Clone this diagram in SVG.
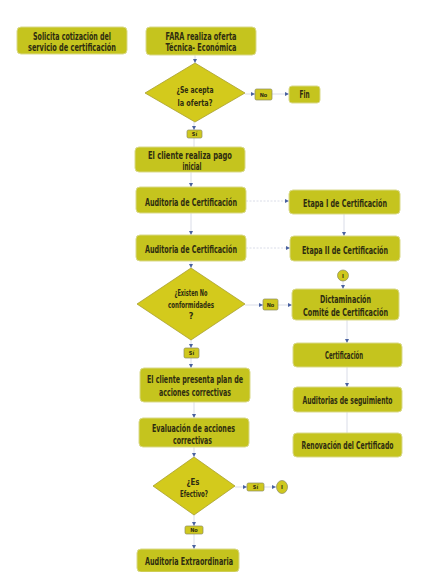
<svg xmlns="http://www.w3.org/2000/svg" width="436" height="572" viewBox="0 0 436 572">
<style>
.box{fill:#C5C41E;stroke:#D9D98A;stroke-width:1}
.dia{fill:#D3CA1C;stroke:#A8A030;stroke-width:0.8}
.lab{fill:#CFC81E;stroke:#8A8A60;stroke-width:0.7}
.t{font-family:"DejaVu Sans Condensed","Liberation Sans Narrow","Liberation Sans",sans-serif;font-size:10.5px;font-weight:bold;fill:#2E2C10;text-anchor:middle}
.m{font-size:9.8px}
.s{font-size:9px}
.xs{font-size:5.5px}
.c{fill:none;stroke:#D0D4E2;stroke-width:0.8}
.cd{fill:none;stroke:#D0D4E2;stroke-width:0.8;stroke-dasharray:2 1.5}
</style>
<defs>
<marker id="ah" viewBox="0 0 6 6" refX="6" refY="3" markerWidth="4" markerHeight="4" orient="auto" markerUnits="userSpaceOnUse">
<path d="M0,0 L6,3 L0,6 z" fill="#4A62A0"/>
</marker>
</defs>
<rect width="436" height="572" fill="#FFFFFF"/>
<g id="connectors">
<line class="c" x1="195" y1="55" x2="195" y2="63" marker-end="url(#ah)"/>
<line class="c" x1="245" y1="94" x2="255" y2="94" marker-end="url(#ah)"/>
<line class="c" x1="272" y1="94" x2="289" y2="94" marker-end="url(#ah)"/>
<line class="c" x1="194" y1="122" x2="194" y2="130" marker-end="url(#ah)"/>
<line class="c" x1="194" y1="138" x2="194" y2="147"/>
<line class="c" x1="191" y1="172" x2="191" y2="187" marker-end="url(#ah)"/>
<line class="cd" x1="246" y1="201" x2="289" y2="201" marker-end="url(#ah)"/>
<line class="c" x1="191" y1="213" x2="191" y2="235" marker-end="url(#ah)"/>
<line class="c" x1="344" y1="214" x2="344" y2="236" marker-end="url(#ah)"/>
<line class="cd" x1="246" y1="248" x2="290" y2="248" marker-end="url(#ah)"/>
<line class="c" x1="191" y1="261" x2="191" y2="268" marker-end="url(#ah)"/>
<line class="c" x1="343" y1="281" x2="343" y2="289" marker-end="url(#ah)"/>
<line class="c" x1="245" y1="305" x2="263" y2="305" marker-end="url(#ah)"/>
<line class="c" x1="278" y1="305" x2="292" y2="305" marker-end="url(#ah)"/>
<line class="c" x1="191" y1="340" x2="191" y2="348" marker-end="url(#ah)"/>
<line class="c" x1="191" y1="358" x2="191" y2="368" marker-end="url(#ah)"/>
<line class="c" x1="347" y1="320" x2="347" y2="343" marker-end="url(#ah)"/>
<line class="c" x1="347" y1="367" x2="347" y2="387" marker-end="url(#ah)"/>
<line class="c" x1="347" y1="412" x2="347" y2="433"/>
<line class="c" x1="194" y1="402" x2="194" y2="418" marker-end="url(#ah)"/>
<line class="c" x1="194" y1="447" x2="194" y2="457" marker-end="url(#ah)"/>
<line class="c" x1="235" y1="487" x2="247" y2="487" marker-end="url(#ah)"/>
<line class="c" x1="264" y1="487" x2="276" y2="487" marker-end="url(#ah)"/>
<line class="c" x1="194" y1="515" x2="194" y2="526" marker-end="url(#ah)"/>
<line class="c" x1="194" y1="533" x2="194" y2="549" marker-end="url(#ah)"/>
</g>
<g id="n-solicita">
<rect class="box" x="17" y="27" width="110" height="27" rx="4"/>
<text class="t" x="72" y="39.5" textLength="78" lengthAdjust="spacingAndGlyphs">Solicita cotización del</text>
<text class="t" x="72" y="51" textLength="88" lengthAdjust="spacingAndGlyphs">servicio de certificación</text>
</g>
<g id="n-fara">
<rect class="box" x="146" y="27" width="110" height="28" rx="4"/>
<text class="t" x="201" y="39.5" textLength="71" lengthAdjust="spacingAndGlyphs">FARA realiza oferta</text>
<text class="t" x="201" y="51" textLength="71" lengthAdjust="spacingAndGlyphs">Técnica- Económica</text>
</g>
<g id="n-acepta">
<polygon class="dia" points="195,63 245,93 195,122 145,93"/>
<text class="t s" x="195" y="93" textLength="37" lengthAdjust="spacingAndGlyphs">¿Se acepta</text>
<text class="t s" x="195" y="106" textLength="35" lengthAdjust="spacingAndGlyphs">la oferta?</text>
</g>
<g id="n-no1">
<rect class="lab" x="255" y="89" width="17" height="11" rx="1.5"/>
<text class="t xs" x="263.5" y="96.5">No</text>
</g>
<g id="n-fin">
<rect class="box" x="289" y="86" width="31" height="17" rx="3"/>
<text class="t" x="304.5" y="98" textLength="10" lengthAdjust="spacingAndGlyphs">Fin</text>
</g>
<g id="n-si1">
<rect class="lab" x="187" y="130" width="15" height="8" rx="1.5"/>
<text class="t xs" x="194.5" y="136">Sí</text>
</g>
<g id="n-pago">
<rect class="box" x="135" y="147" width="110" height="25" rx="4"/>
<text class="t" x="190" y="158.5" textLength="84" lengthAdjust="spacingAndGlyphs">El cliente realiza pago</text>
<text class="t" x="192" y="169.5" textLength="19" lengthAdjust="spacingAndGlyphs">inicial</text>
</g>
<g id="n-auditoria1">
<rect class="box" x="136" y="187" width="110" height="26" rx="4"/>
<text class="t" x="191" y="205.5" textLength="92" lengthAdjust="spacingAndGlyphs">Auditoria de Certificación</text>
</g>
<g id="n-etapa1">
<rect class="box" x="289" y="190" width="111" height="24" rx="4"/>
<text class="t" x="345" y="206.5" textLength="84" lengthAdjust="spacingAndGlyphs">Etapa I de Certificación</text>
</g>
<g id="n-auditoria2">
<rect class="box" x="136" y="235" width="110" height="26" rx="4"/>
<text class="t" x="191" y="252.5" textLength="92" lengthAdjust="spacingAndGlyphs">Auditoria de Certificación</text>
</g>
<g id="n-etapa2">
<rect class="box" x="290" y="236" width="110" height="25" rx="4"/>
<text class="t" x="345" y="253.5" textLength="86" lengthAdjust="spacingAndGlyphs">Etapa II de Certificación</text>
</g>
<g id="n-i1">
<ellipse class="lab" cx="343" cy="275.5" rx="5.5" ry="5.5"/>
<text class="t xs" x="343" y="277.5">I</text>
</g>
<g id="n-noconf">
<polygon class="dia" points="191,268 245,304 191,340 137,304"/>
<text class="t s" x="191" y="296" textLength="33" lengthAdjust="spacingAndGlyphs">¿Existen No</text>
<text class="t s" x="191" y="308" textLength="46" lengthAdjust="spacingAndGlyphs">conformidades</text>
<text class="t s" x="191" y="319">?</text>
</g>
<g id="n-no2">
<rect class="lab" x="263" y="299" width="15" height="11" rx="1.5"/>
<text class="t xs" x="270.5" y="306.5">No</text>
</g>
<g id="n-dictamen">
<rect class="box" x="292" y="289" width="107" height="31" rx="4"/>
<text class="t" x="345.5" y="302.5" textLength="51" lengthAdjust="spacingAndGlyphs">Dictaminación</text>
<text class="t" x="345.5" y="315.5" textLength="85" lengthAdjust="spacingAndGlyphs">Comité de Certificación</text>
</g>
<g id="n-si2">
<rect class="lab" x="184" y="348" width="15" height="10" rx="1.5"/>
<text class="t xs" x="191.5" y="355">Sí</text>
</g>
<g id="n-certificacion">
<rect class="box" x="293" y="343" width="109" height="24" rx="4"/>
<text class="t" x="344" y="358.5" textLength="38" lengthAdjust="spacingAndGlyphs">Certificación</text>
</g>
<g id="n-plan">
<rect class="box" x="140" y="368" width="110" height="34" rx="4"/>
<text class="t" x="195" y="382.5" textLength="96" lengthAdjust="spacingAndGlyphs">El cliente presenta plan de</text>
<text class="t" x="195" y="395.5" textLength="72" lengthAdjust="spacingAndGlyphs">acciones correctivas</text>
</g>
<g id="n-seguimiento">
<rect class="box" x="293" y="387" width="109" height="25" rx="4"/>
<text class="t m" x="347.5" y="403.5" textLength="90" lengthAdjust="spacingAndGlyphs">Auditorias de seguimiento</text>
</g>
<g id="n-evaluacion">
<rect class="box" x="139" y="418" width="110" height="29" rx="4"/>
<text class="t" x="193.5" y="431.5" textLength="83" lengthAdjust="spacingAndGlyphs">Evaluación de acciones</text>
<text class="t" x="192.5" y="443.5" textLength="39" lengthAdjust="spacingAndGlyphs">correctivas</text>
</g>
<g id="n-renovacion">
<rect class="box" x="293" y="433" width="109" height="24" rx="4"/>
<text class="t m" x="347.5" y="448.5" textLength="92" lengthAdjust="spacingAndGlyphs">Renovación del Certificado</text>
</g>
<g id="n-efectivo">
<polygon class="dia" points="194,457 235,486 194,515 153,486"/>
<text class="t s" x="193" y="485" textLength="13" lengthAdjust="spacingAndGlyphs">¿Es</text>
<text class="t s" x="194" y="497" textLength="28" lengthAdjust="spacingAndGlyphs">Efectivo?</text>
</g>
<g id="n-si3">
<rect class="lab" x="247" y="483" width="17" height="8" rx="1.5"/>
<text class="t xs" x="255.5" y="489">Sí</text>
</g>
<g id="n-i2">
<ellipse class="lab" cx="282" cy="487" rx="5.5" ry="6.5"/>
<text class="t xs" x="282" y="489">I</text>
</g>
<g id="n-no3">
<rect class="lab" x="185" y="526" width="18" height="8" rx="1.5"/>
<text class="t xs" x="194" y="532">No</text>
</g>
<g id="n-extraordinaria">
<rect class="box" x="137" y="549" width="102" height="23" rx="4"/>
<text class="t" x="189" y="564.5" textLength="88" lengthAdjust="spacingAndGlyphs">Auditoria Extraordinaria</text>
</g>
</svg>
